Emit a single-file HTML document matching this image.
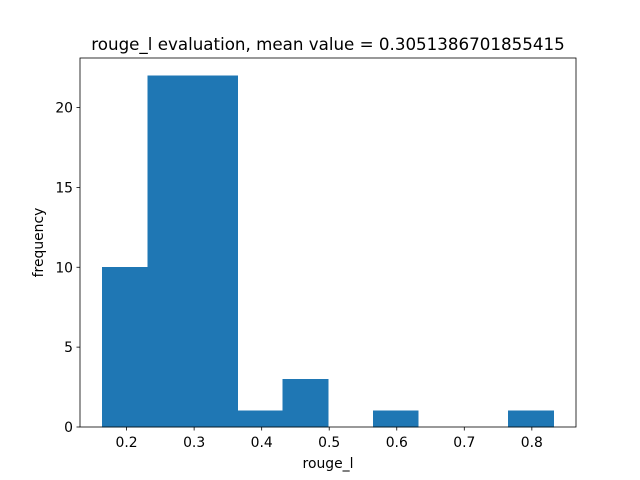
<!DOCTYPE html>
<html><head><meta charset="utf-8"><style>
body{margin:0;background:#fff;}
svg{display:block;font-family:"DejaVu Sans","Liberation Sans",sans-serif;}
</style></head><body>
<svg id="chart" width="640" height="480"></svg>
<script>
const binMin = 0.1644;
const binMax = 0.832;
const counts = [10, 22, 22, 1, 3, 0, 1, 0, 0, 1];
const xTicks = [0.2, 0.3, 0.4, 0.5, 0.6, 0.7, 0.8];
const xTickLabels = ["0.2","0.3","0.4","0.5","0.6","0.7","0.8"];
const yTicks = [0, 5, 10, 15, 20];
const titleText = "rouge_l evaluation, mean value = 0.3051386701855415";

const L=80,R=576,T=58,B=427;
const span=binMax-binMin, xlo=binMin-span*0.05, xhi=binMax+span*0.05;
const ymax=Math.max(...counts)*1.05;
const sx=v=>L+(v-xlo)/(xhi-xlo)*(R-L);
const sy=v=>B-v/ymax*(B-T);
const svg=document.getElementById('chart');
const NS='http://www.w3.org/2000/svg';
function mk(tag,attrs,parent){const e=document.createElementNS(NS,tag);for(const k in attrs)e.setAttribute(k,attrs[k]);(parent||svg).appendChild(e);return e;}

const bw=span/counts.length;
counts.forEach((c,i)=>{
  const x0=sx(binMin+i*bw), x1=sx(binMin+(i+1)*bw);
  const r=mk('rect',{x:x0,y:sy(c),width:x1-x0,height:B-sy(c),fill:'#1f77b4',stroke:'#1f77b4','stroke-width':0.6,'shape-rendering':'crispEdges'});
  
  
});
const frame=mk('rect',{x:L,y:T,width:R-L,height:B-T,fill:'none',stroke:'#000','stroke-width':0.8});



xTicks.forEach((v,i)=>{
  const x=sx(v);
  mk('line',{x1:x,x2:x,y1:B,y2:B+3.5,stroke:'#000','stroke-width':0.8});
  const t=mk('text',{x:x,y:B+20,'text-anchor':'middle','font-size':13.9});
  t.textContent=xTickLabels[i];
  
  
});
yTicks.forEach(v=>{
  const y=sy(v);
  mk('line',{x1:L-3.5,x2:L,y1:y,y2:y,stroke:'#000','stroke-width':0.8});
  const t=mk('text',{x:L-7,y:y+5,'text-anchor':'end','font-size':13.9});
  t.textContent=String(v);
  
  
});
const xt=mk('text',{x:(L+R)/2,y:468,'text-anchor':'middle','font-size':13.9});
xt.textContent='rouge_l';


const yt=mk('text',{x:0,y:0,'text-anchor':'middle','font-size':13.9,transform:`translate(43,${(T+B)/2}) rotate(-90)`});
yt.textContent='frequency';


const tt=mk('text',{x:(L+R)/2,y:50,'text-anchor':'middle','font-size':16.7});
tt.textContent=titleText;


</script>
</body></html>
